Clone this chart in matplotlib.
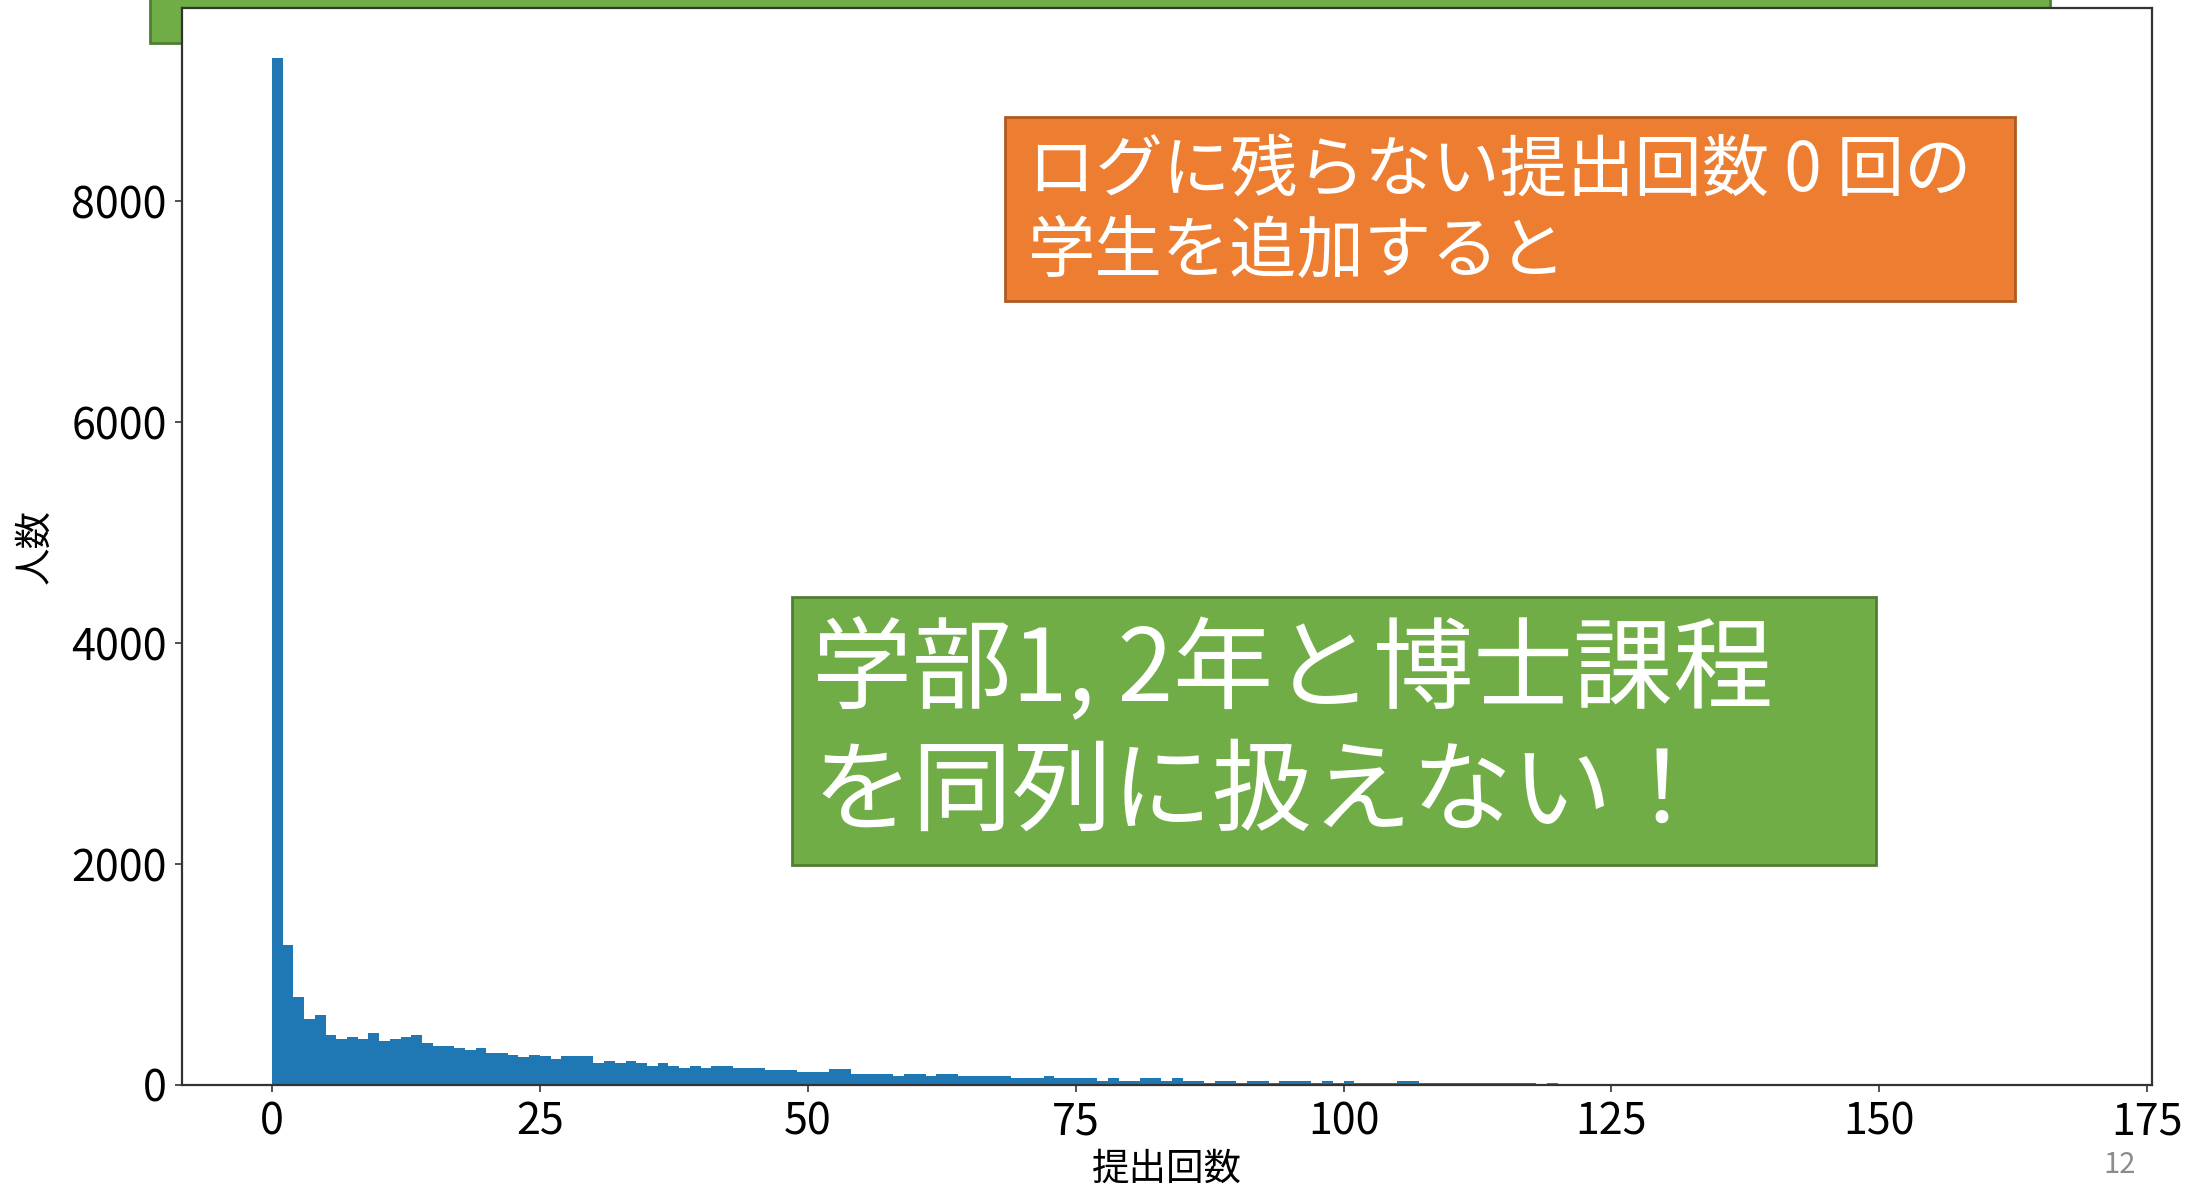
import matplotlib

matplotlib.use('Agg')
import matplotlib.pyplot as plt
import numpy as np
from matplotlib import patches

plt.rcParams['font.family'] = ['Noto Sans CJK JP', 'DejaVu Sans']

FIG_W = 2194
FIG_H = 1186
DPI = 100

# histogram: submissions per student (bin width 1)
submit_bins = np.arange(0, 120)
submit_counts = [
    9300, 1271, 795, 596, 635, 457, 415, 436, 415, 475,
    394, 415, 436, 457, 376, 357, 357, 337, 318, 337,
    294, 294, 276, 255, 276, 260, 239, 260, 260, 260,
    196, 217, 196, 217, 196, 175, 196, 175, 157, 175,
    157, 175, 175, 157, 157, 157, 136, 136, 136, 115,
    118, 118, 142, 142, 103, 103, 103, 103, 81, 103,
    103, 81, 103, 103, 81, 81, 81, 81, 81, 60,
    60, 60, 81, 60, 60, 60, 60, 39, 60, 39,
    39, 60, 60, 39, 60, 39, 39, 18, 39, 39,
    18, 39, 39, 18, 39, 39, 39, 18, 39, 18,
    39, 18, 18, 18, 18, 39, 39, 18, 18, 18,
    18, 18, 18, 18, 18, 18, 18, 18, 0, 18,
]
x_ticks = [0, 25, 50, 75, 100, 125, 150, 175]
y_ticks = [0, 2000, 4000, 6000, 8000]
x_label = '提出回数'
y_label = '人数'
note_lines = ['ログに残らない提出回数 0 回の', '学生を追加すると']
claim_lines = ['学部1, 2年と博士課程', 'を同列に扱えない！']
page_no = '12'

ORANGE = '#ED7D31'
ORANGE_EDGE = '#AE5A21'
GREEN = '#70AD47'
GREEN_EDGE = '#507E32'


def fx(px):
    return px / FIG_W


def fy(py):
    # pixel y measured from the top
    return 1 - py / FIG_H


def add_box(fig, x0, y0, x1, y1, face, edge, zorder):
    rect = patches.Rectangle((fx(x0), fy(y1)), fx(x1) - fx(x0), fy(y0) - fy(y1),
                             transform=fig.transFigure, facecolor=face,
                             edgecolor=edge, linewidth=2, zorder=zorder)
    fig.add_artist(rect)


fig = plt.figure(figsize=(FIG_W / DPI, FIG_H / DPI), dpi=DPI)
fig.patch.set_facecolor('white')

# title bar of the slide, partly hidden behind the chart
add_box(fig, 150, -10, 2050, 43, GREEN, GREEN_EDGE, zorder=0)

ax = fig.add_axes([fx(182), fy(1085), fx(2152) - fx(182), fy(8) - fy(1085)])
ax.set_zorder(1)
ax.set_facecolor('white')
ax.bar(submit_bins, submit_counts, width=1.0, align='edge', color='#1f77b4', linewidth=0)
ax.set_xlim(-8.4, 175.45)
ax.set_ylim(0, 9750)
ax.set_xticks(x_ticks)
ax.set_yticks(y_ticks)
ax.tick_params(labelsize=31, length=5, width=1.2, color='#333333', pad=6)
for sp in ax.spines.values():
    sp.set_linewidth(1.6)
    sp.set_color('#333333')
ax.set_xlabel(x_label, fontsize=27, labelpad=4)
ax.set_ylabel(y_label, fontsize=27, labelpad=12)

# orange note box
add_box(fig, 1005, 117, 2015, 301, ORANGE, ORANGE_EDGE, zorder=5)
for text, cy in zip(note_lines, [172, 253]):
    fig.text(fx(1028), fy(cy), text, fontsize=48.5, color='white', ha='left', va='center', zorder=6)

# green claim box
add_box(fig, 792, 597, 1876, 865, GREEN, GREEN_EDGE, zorder=5)
for text, cy in zip(claim_lines, [672, 794]):
    fig.text(fx(812), fy(cy), text, fontsize=72, color='white', ha='left', va='center', zorder=6)

fig.text(fx(2120), fy(1165), page_no, fontsize=21, color='#8c8c8c', ha='center', va='center')

fig.savefig('out.png', dpi=DPI)
